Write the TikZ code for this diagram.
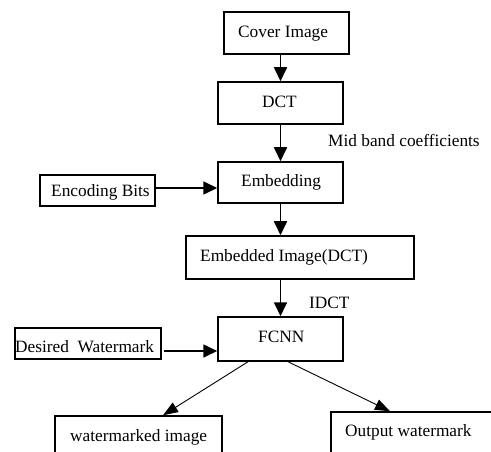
\documentclass[tikz,border=0pt]{standalone}
\usepackage{fontspec}
\setmainfont{Liberation Serif}
\usetikzlibrary{arrows.meta}
\begin{document}
\begin{tikzpicture}[x=1bp,y=-1bp,
  box/.style={draw, line width=1.5bp, inner sep=0pt},
  txt/.style={inner sep=0pt, anchor=base west, font=\fontsize{17.3bp}{20bp}\selectfont},
  arr/.style={line width=1.7bp, -{Triangle[length=14bp,width=13bp]}},
  thinarr/.style={line width=0.9bp, -{Triangle[length=15bp,width=11bp]}}]
\useasboundingbox (0,0) rectangle (491,452);
\clip (0,0) rectangle (491,452);
% boxes
\node[box, minimum width=125bp, minimum height=42bp] (cover) at (286.5,33) {};
\node[box, minimum width=125bp, minimum height=42bp] (dct) at (280.5,103) {};
\node[box, minimum width=125bp, minimum height=41bp] (embed) at (280.5,182.5) {};
\node[box, minimum width=115bp, minimum height=31bp] (enc) at (97.5,190.5) {};
\node[box, minimum width=228bp, minimum height=43bp] (emi) at (300,257.5) {};
\node[box, minimum width=125bp, minimum height=44bp] (fcnn) at (280.5,339) {};
\node[box, minimum width=146bp, minimum height=31bp] (des) at (88,343.5) {};
\node[box, minimum width=167bp, minimum height=54bp] (wimg) at (138.5,443) {};
\node[box, minimum width=169bp, minimum height=58bp] (owm) at (415.5,441) {};
% texts
\node[txt] (cover-t) at (238,37.3) {Cover Image};
\node[txt] (dct-t) at (262,107.7) {DCT};
\node[txt] (mid-t) at (328,147) {Mid band coefficients};
\node[txt] (enc-t) at (51,196.5) {Encoding Bits};
\node[txt] (embed-t) at (241,186.5) {Embedding};
\node[txt] (emi-t) at (200,261.5) {Embedded Image(DCT)};
\node[txt] (idct-t) at (309,308) {IDCT};
\node[txt] (fcnn-t) at (258,342.5) {FCNN};
\node[txt] (des-t) at (15,352.5) {Desired\ \ Watermark};
\node[txt] (wimg-t) at (70,441) {watermarked image};
\node[txt] (owm-t) at (345,436.5) {Output watermark};
% connectors
\draw[arr] (cover.south -| dct.north) -- (dct.north);
\draw[arr] (dct.south) -- (embed.north);
\draw[arr] ([yshift=2.5bp]enc.east) coordinate (e1) -- (e1 -| embed.west);
\draw[arr] (embed.south) -- (embed.south |- emi.north);
\draw[arr] (emi.south -| fcnn.north) -- (fcnn.north);
\draw[arr] ([xshift=2bp,yshift=-7.5bp]des.east) coordinate (d1) -- (d1 -| fcnn.west);
\draw[thinarr] ([xshift=-32.5bp]fcnn.south) -- (wimg.north -| 163,0);
\draw[thinarr] ([xshift=7.5bp]fcnn.south) -- (owm.north -| 390,0);
\end{tikzpicture}
\end{document}
